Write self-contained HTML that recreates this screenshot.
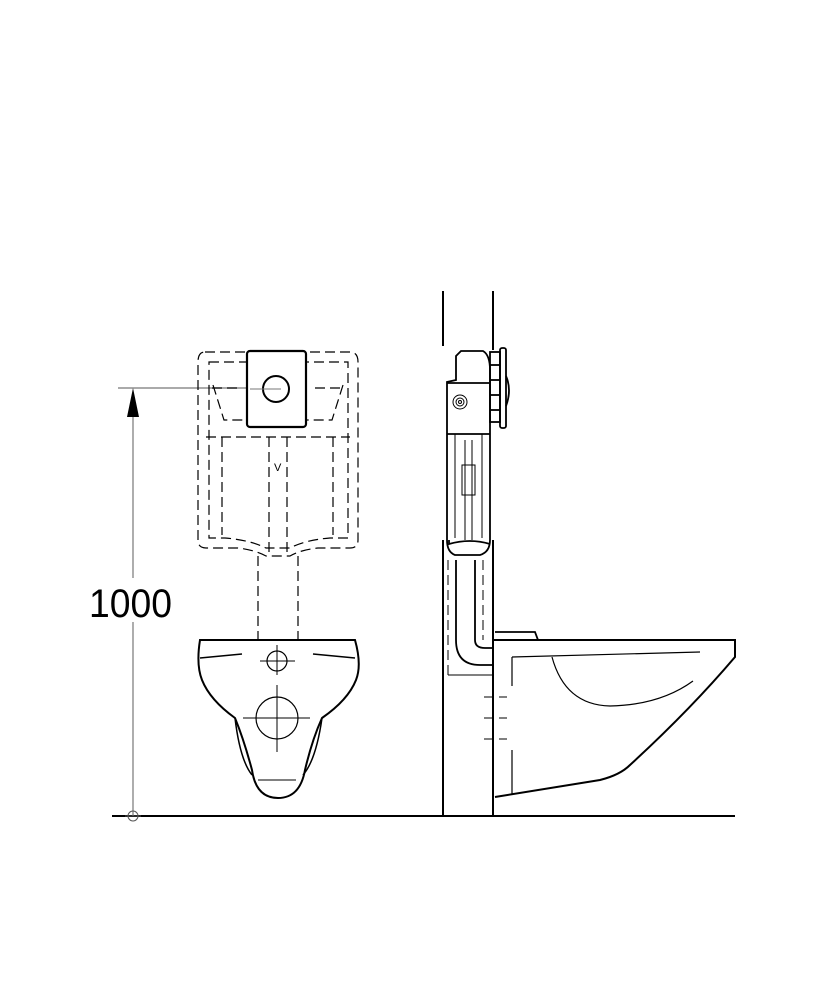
<!DOCTYPE html>
<html><head><style>body{margin:0;background:#fff}svg{display:block}</style></head>
<body>
<svg width="833" height="1000" viewBox="0 0 833 1000" xmlns="http://www.w3.org/2000/svg" fill="none" stroke="#000">
<!-- floor -->
<line x1="112" y1="816" x2="735" y2="816" stroke-width="2"/>
<!-- dimension -->
<line x1="118" y1="388" x2="282" y2="388" stroke="#777" stroke-width="1.2"/>
<line x1="133" y1="410" x2="133" y2="578" stroke="#777" stroke-width="1.2"/>
<line x1="133" y1="622" x2="133" y2="816" stroke="#777" stroke-width="1.2"/>
<polygon points="133,388 127,417 139,417" fill="#000" stroke="none"/>
<circle cx="133" cy="816" r="5" stroke="#555" stroke-width="1"/>
<line x1="125" y1="816" x2="141" y2="816" stroke="#555"/>
<text x="89" y="617" font-family="Liberation Sans, sans-serif" font-size="40" fill="#000" stroke="none" textLength="83" lengthAdjust="spacingAndGlyphs">1000</text>

<!-- front cistern dashed -->
<g stroke-width="1.2" stroke-dasharray="10,5">
<path d="M205,352 L350,352 Q358,352 358,362 L358,540 Q358,548 350,548 L318,548 Q300,550 290,556 L266,556 Q255,550 238,548 L206,548 Q198,548 198,540 L198,362 Q198,352 205,352 Z"/>
<path d="M209,362 L348,362 L348,538 L330,538 Q305,540 290,548 L266,548 Q250,540 225,538 L209,538 Z"/>
<line x1="206" y1="437" x2="350" y2="437"/>
<line x1="212" y1="388" x2="240" y2="388"/>
<line x1="315" y1="388" x2="344" y2="388"/>
<path d="M213,385 L224,420 L247,420"/>
<path d="M343,385 L332,420 L306,420"/>
<line x1="222" y1="437" x2="222" y2="535"/>
<line x1="333" y1="437" x2="333" y2="535"/>
<line x1="269" y1="437" x2="269" y2="556"/>
<line x1="287" y1="437" x2="287" y2="556"/>
<line x1="258" y1="556" x2="258" y2="640"/>
<line x1="298" y1="556" x2="298" y2="640"/>
</g>
<text x="274" y="471" font-family="Liberation Sans, sans-serif" font-size="11" fill="#000" stroke="none">V</text>
<rect x="247" y="351" width="59" height="76" rx="3" stroke-width="2.2" fill="#fff"/>
<circle cx="276" cy="389" r="13" stroke-width="2"/>
<line x1="250" y1="389" x2="281" y2="389" stroke="#777"/>

<!-- front bowl -->
<path d="M200,640 L355,640 Q362,665 356,680 Q348,700 322,718 Q312,740 305,770 Q300,798 278,798 Q256,798 252,770 Q244,740 235,718 Q210,700 202,680 Q196,665 200,640 Z" stroke-width="2"/>
<path d="M235,718 Q240,760 252,775" stroke-width="1.5"/>
<path d="M322,718 Q316,760 303,775" stroke-width="1.5"/>
<line x1="258" y1="780" x2="296" y2="780" stroke-width="1"/>
<line x1="200" y1="658" x2="242" y2="654" stroke-width="1.5"/>
<line x1="313" y1="654" x2="355" y2="658" stroke-width="1.5"/>
<circle cx="277" cy="661" r="10" stroke-width="1.2"/>
<line x1="260" y1="661" x2="295" y2="661" stroke-width="1"/>
<line x1="277" y1="645" x2="277" y2="675" stroke-width="1"/>
<circle cx="277" cy="718" r="21" stroke-width="1.2"/>
<line x1="243" y1="718" x2="310" y2="718" stroke-width="1"/>
<line x1="277" y1="685" x2="277" y2="752" stroke-width="1"/>

<!-- wall -->
<g stroke-width="2">
<line x1="443" y1="291" x2="443" y2="346"/>
<line x1="493" y1="291" x2="493" y2="350"/>
<line x1="443" y1="540" x2="443" y2="816"/>
<line x1="493" y1="540" x2="493" y2="816"/>
</g>
<!-- side cistern -->
<g stroke-width="1.8">
<path d="M461,351 L483,351 Q490,355 490,370 L490,540 Q490,552 480,555 L455,555 Q447,552 447,540 L447,382 L456,380 L456,356 Z" fill="#fff"/>
<line x1="447" y1="383" x2="490" y2="383"/>
<line x1="447" y1="434" x2="490" y2="434"/>
<path d="M449,540 L449,544 Q470,538 490,544"/>
<rect x="490" y="352" width="10" height="70"/>
<rect x="500" y="348" width="6" height="80" rx="2"/>
<path d="M506,376 Q512,390 506,406"/>
<line x1="490" y1="365" x2="500" y2="365"/><line x1="490" y1="380" x2="500" y2="380"/><line x1="490" y1="395" x2="500" y2="395"/><line x1="490" y1="410" x2="500" y2="410"/>
</g>
<circle cx="460" cy="402" r="7" stroke-width="1"/><circle cx="460" cy="402" r="4" stroke-width="1"/><circle cx="460" cy="402" r="1.5" stroke-width="1"/>
<g stroke-width="1">
<line x1="455" y1="434" x2="455" y2="538"/>
<line x1="482" y1="434" x2="482" y2="538"/>
<line x1="465" y1="440" x2="465" y2="540"/>
<line x1="472" y1="440" x2="472" y2="540"/>
<rect x="462" y="465" width="13" height="30"/>
</g>
<!-- pipe -->
<path d="M456,560 L456,640 Q456,665 480,665 L493,665" stroke-width="1.8"/>
<path d="M475,560 L475,640 Q475,648 485,648 L493,648" stroke-width="1.8"/>
<g stroke-dasharray="10,5" stroke-width="1">
<line x1="448" y1="560" x2="448" y2="675"/>
<line x1="483" y1="560" x2="483" y2="640"/>
<line x1="484" y1="697" x2="507" y2="697"/>
<line x1="484" y1="718" x2="507" y2="718"/>
<line x1="484" y1="739" x2="507" y2="739"/>
</g>
<path d="M448,675 L493,675" stroke-width="1"/>
<!-- side bowl -->
<path d="M495,632 L535,632 L538,640" stroke-width="1.8"/>
<path d="M493,640 L735,640 L735,657 Q690,710 630,765 Q620,775 600,780 L495,797" stroke-width="2"/>
<line x1="512" y1="657" x2="700" y2="652" stroke-width="1.2"/>
<line x1="512" y1="657" x2="512" y2="686" stroke-width="1.2"/>
<line x1="512" y1="750" x2="512" y2="795" stroke-width="1.2"/>
<path d="M552,657 Q565,705 610,706 Q660,705 693,681" stroke-width="1.2"/>
</svg>
</body></html>
